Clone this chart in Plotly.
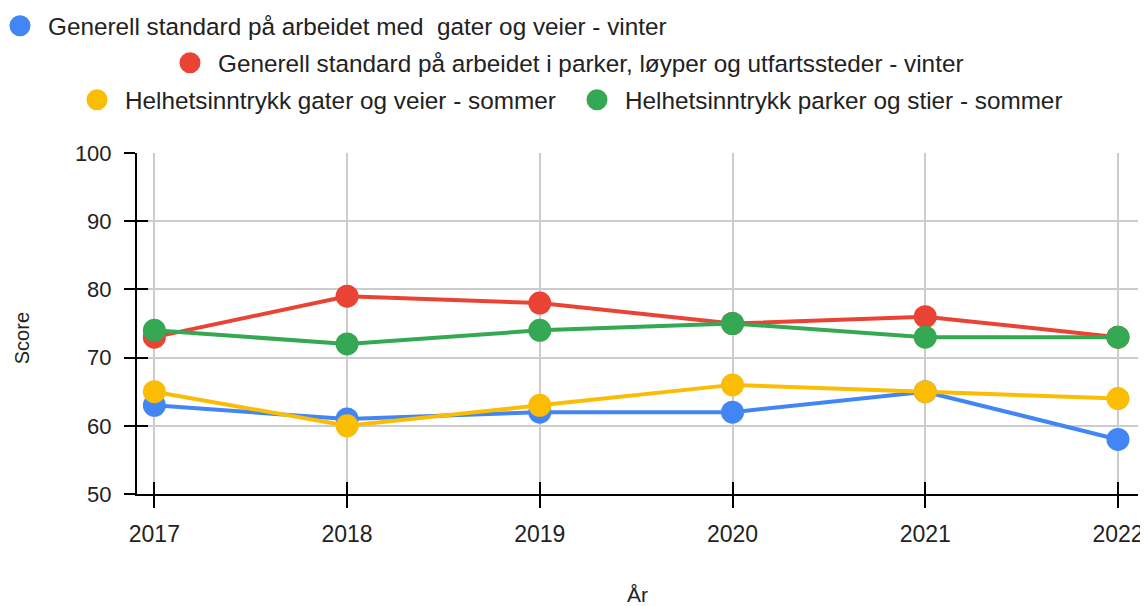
import plotly.graph_objects as go

years = [2017, 2018, 2019, 2020, 2021, 2022]

names = [
    "Generell standard på arbeidet med  gater og veier - vinter",
    "Generell standard på arbeidet i parker, løyper og utfartssteder - vinter",
    "Helhetsinntrykk gater og veier - sommer",
    "Helhetsinntrykk parker og stier - sommer",
]
blue_vals = [63, 61, 62, 62, 65, 58]
red_vals = [73, 79, 78, 75, 76, 73]
yellow_vals = [65, 60, 63, 66, 65, 64]
green_vals = [74, 72, 74, 75, 73, 73]

colors = ["#4285F4", "#EA4335", "#FBBC04", "#34A853"]
series = [blue_vals, red_vals, yellow_vals, green_vals]
legends = ["legend", "legend2", "legend3", "legend4"]

FONT = "Liberation Sans, Arial, sans-serif"

# page body has an 8px margin, so the figure starts 8px in
W, H = 1148, 598
L, R, T = 129, 18, 144.5
B = H - 486

fig = go.Figure()

for name, vals, col, leg in zip(names, series, colors, legends):
    fig.add_trace(go.Scatter(
        x=years, y=vals, mode="lines+markers", name=name,
        line=dict(color=col, width=4),
        marker=dict(color=col, size=23),
        showlegend=False,
    ))
    # legend-only marker entry
    fig.add_trace(go.Scatter(
        x=[None], y=[None], mode="markers", name=name,
        marker=dict(color=col, size=30, line=dict(color=col, width=5)),
        legend=leg, showlegend=True,
    ))

# invisible trace so the overlay axes get drawn
fig.add_trace(go.Scatter(x=[None], y=[None], xaxis="x2", yaxis="y2",
                         showlegend=False, hoverinfo="skip"))

xr = [2016.91, 2022.104]
yr = [50, 100]
yticks = [50, 60, 70, 80, 90, 100]

leg_common = dict(font=dict(family=FONT, size=24.3, color="#222"),
                  bgcolor="rgba(0,0,0,0)", yref="container",
                  yanchor="middle", xanchor="left", orientation="h",
                  itemwidth=46)

pw = W - L - R
ph = H - T - B

fig.update_layout(
    width=W, height=H,
    margin=dict(l=L, r=R, t=T, b=B, autoexpand=False),
    plot_bgcolor="white", paper_bgcolor="white",
    font=dict(family=FONT, size=20, color="#222"),
    xaxis=dict(
        range=xr, tickvals=years, ticktext=[str(y) for y in years],
        showgrid=True, gridcolor="#cccccc", gridwidth=1.5,
        showline=True, linecolor="black", linewidth=2,
        ticks="outside", ticklen=12, tickcolor="black", tickwidth=1.5,
        ticklabelstandoff=6, zeroline=False, automargin=False,
        ticklabeloverflow="allow",
        tickfont=dict(size=23),
        title=dict(text="År", font=dict(size=21), standoff=54),
    ),
    yaxis=dict(
        range=yr, tickvals=yticks,
        showgrid=True, gridcolor="#cccccc", gridwidth=1.5,
        showline=True, linecolor="black", linewidth=2,
        ticks="outside", ticklen=11, tickcolor="black", tickwidth=1.5,
        ticklabelstandoff=8, zeroline=False, automargin=False,
        tickfont=dict(size=22),
    ),
    xaxis2=dict(range=xr, overlaying="x", tickvals=years, showticklabels=False,
                showgrid=False, zeroline=False, ticks="inside", ticklen=12,
                tickcolor="black", tickwidth=1.5, showline=False),
    yaxis2=dict(range=yr, overlaying="y", tickvals=yticks,
                showticklabels=False, showgrid=False, zeroline=False,
                ticks="inside", ticklen=11, tickcolor="black", tickwidth=1.5,
                showline=False),
    legend=dict(xref="paper", x=(-16 - L) / pw, y=1 - 18 / H, **leg_common),
    legend2=dict(xref="paper", x=(154 - L) / pw, y=1 - 55 / H, **leg_common),
    legend3=dict(xref="paper", x=(61 - L) / pw, y=1 - 92 / H, **leg_common),
    legend4=dict(xref="paper", x=(561 - L) / pw, y=1 - 92 / H, **leg_common),
    showlegend=True,
)

# y-axis title, sits a little below the axis middle like the original
fig.add_annotation(
    text="Score", textangle=-90, showarrow=False,
    xref="paper", yref="paper", x=(14 - L) / pw, y=(486 - 330) / ph,
    xanchor="center", yanchor="middle",
    font=dict(family=FONT, size=20, color="#222"),
)

fig.write_html("out.html")
